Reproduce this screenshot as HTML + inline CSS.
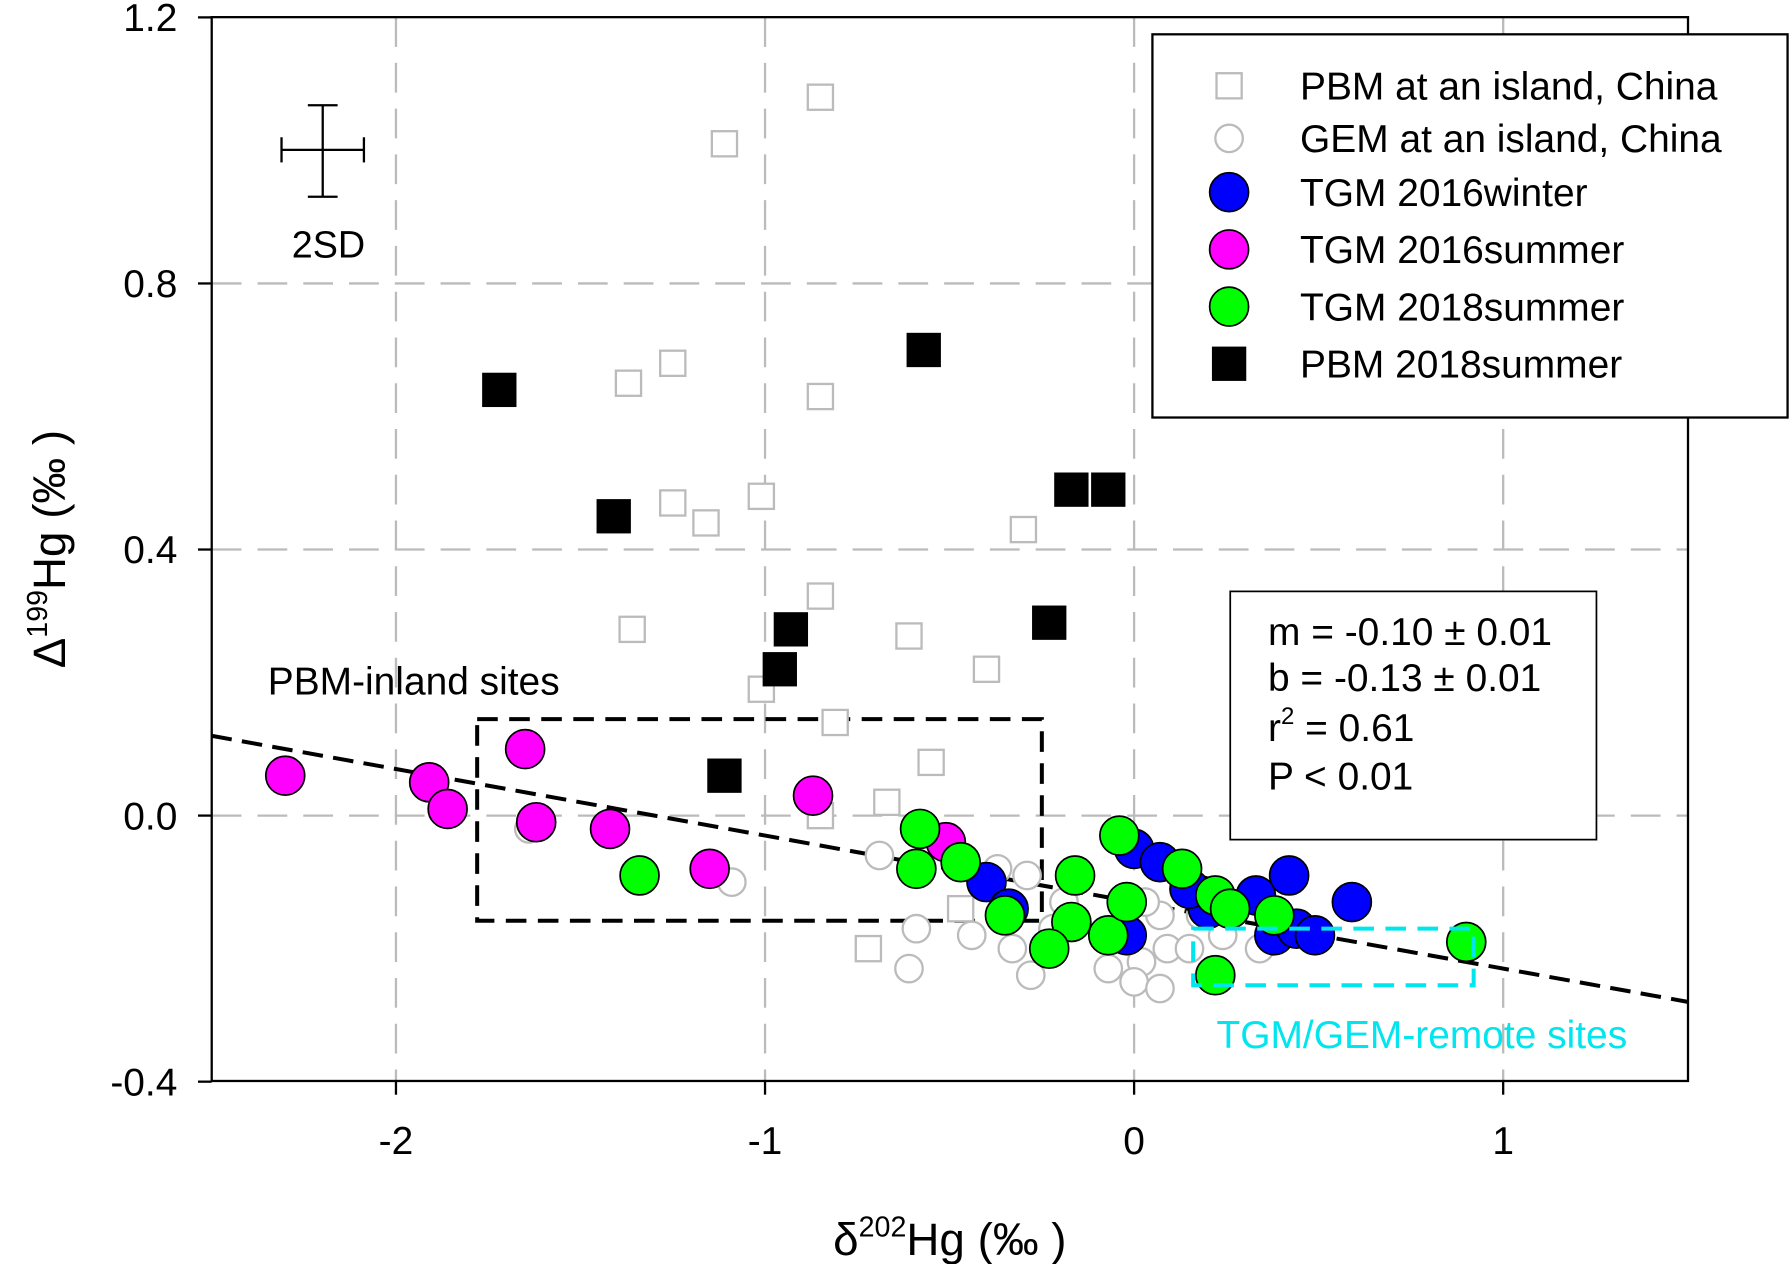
<!DOCTYPE html>
<html><head><meta charset="utf-8"><style>
html,body{margin:0;padding:0;background:#fff;}
svg{display:block;font-family:"Liberation Sans",Arial,sans-serif;}
</style></head><body>
<svg id="chart" width="1791" height="1264" viewBox="0 0 1565 1105" preserveAspectRatio="none">
<g id="grid"></g>
<g id="ann"></g>
<g id="marks"></g>
<rect x="185" y="15" width="1290" height="930" fill="none" stroke="#000" stroke-width="2"/>
<g id="axes"></g>
<text x="830" y="1097" font-size="40" text-anchor="middle">δ<tspan font-size="25" dy="-16">202</tspan><tspan dy="16">Hg (‰ )</tspan></text>
<text transform="translate(57,480) rotate(-90)" font-size="40" text-anchor="middle">Δ<tspan font-size="25" dy="-16">199</tspan><tspan dy="16">Hg (‰ )</tspan></text>
<g stroke="#000" stroke-width="2">
<line x1="246" y1="131" x2="318" y2="131"/><line x1="282" y1="92" x2="282" y2="172"/>
<line x1="246" y1="120" x2="246" y2="142"/><line x1="318" y1="120" x2="318" y2="142"/>
<line x1="269" y1="92" x2="295" y2="92"/><line x1="269" y1="172" x2="295" y2="172"/>
</g>
<text x="287" y="225" font-size="33" text-anchor="middle">2SD</text>
<g>
<rect x="1007" y="30" width="555" height="335" fill="#fff" stroke="#000" stroke-width="2"/>
<rect x="1063" y="64" width="22" height="22" fill="#fff" stroke="#bbb" stroke-width="2"/>
<text x="1136" y="87" font-size="34">PBM at an island, China</text>
<circle cx="1074" cy="121" r="12" fill="#fff" stroke="#bbb" stroke-width="2"/>
<text x="1136" y="133" font-size="34">GEM at an island, China</text>
<circle cx="1074" cy="168" r="17" fill="#0000ff" stroke="#000" stroke-width="1.5"/>
<text x="1136" y="180" font-size="34">TGM 2016winter</text>
<circle cx="1074" cy="218" r="17" fill="#ff00ff" stroke="#000" stroke-width="1.5"/>
<text x="1136" y="230" font-size="34">TGM 2016summer</text>
<circle cx="1074" cy="268" r="17" fill="#00ff00" stroke="#000" stroke-width="1.5"/>
<text x="1136" y="280" font-size="34">TGM 2018summer</text>
<rect x="1059" y="303" width="30" height="30" fill="#000"/>
<text x="1136" y="330" font-size="34">PBM 2018summer</text>
</g>
<g>
<rect x="1075" y="517" width="320" height="217" fill="#fff" stroke="#000" stroke-width="1.5"/>
<text x="1108" y="564" font-size="34">m = -0.10 ±  0.01</text>
<text x="1108" y="604" font-size="34">b = -0.13 ± 0.01</text>
<text x="1108" y="648" font-size="34">r<tspan font-size="21" dy="-15">2</tspan><tspan dy="15"> = 0.61</tspan></text>
<text x="1108" y="690" font-size="34">P &lt; 0.01</text>
</g>
<text x="234" y="607" font-size="34">PBM-inland sites</text>
<text x="1063" y="916" font-size="34" fill="#00e5ee">TGM/GEM-remote sites</text>
<script>
const xTicks=[-2,-1,0,1];
const yTicks=[1.2,0.8,0.4,0.0,-0.4];
const yTickLabels=["1.2","0.8","0.4","0.0","-0.4"];
const pbmIslandX=[-0.85,-1.11,-1.25,-1.37,-0.85,-1.25,-1.16,-1.01,-0.30,-0.85,-1.36,-0.61,-0.40,-1.01,-0.81,-0.55,-0.67,-0.85,-0.47,-0.72];
const pbmIslandY=[1.08,1.01,0.68,0.65,0.63,0.47,0.44,0.48,0.43,0.33,0.28,0.27,0.22,0.19,0.14,0.08,0.02,0.00,-0.14,-0.20];
const gemIslandX=[-0.69,-0.59,-0.61,-0.44,-0.37,-0.29,-0.33,-0.28,-1.09,-1.64,-0.07,0.02,0.00,0.07,0.09,0.15,0.07,0.03,0.24,0.34,0.18,-0.19,-0.22];
const gemIslandY=[-0.06,-0.17,-0.23,-0.18,-0.08,-0.09,-0.20,-0.24,-0.10,-0.02,-0.23,-0.22,-0.25,-0.26,-0.20,-0.20,-0.15,-0.13,-0.18,-0.20,-0.15,-0.13,-0.17];
const winter16X=[-0.40,-0.34,0.00,0.07,0.18,0.20,0.33,0.42,0.38,0.44,0.49,0.59,-0.02,0.15];
const winter16Y=[-0.10,-0.14,-0.05,-0.07,-0.12,-0.14,-0.12,-0.09,-0.18,-0.17,-0.18,-0.13,-0.18,-0.11];
const summer16X=[-2.30,-1.91,-1.86,-1.65,-1.62,-1.42,-1.15,-0.87,-0.51];
const summer16Y=[0.06,0.05,0.01,0.10,-0.01,-0.02,-0.08,0.03,-0.04];
const summer18X=[-1.34,-0.58,-0.59,-0.47,-0.35,-0.16,-0.17,-0.23,-0.07,-0.02,-0.04,0.13,0.22,0.26,0.38,0.22,0.90];
const summer18Y=[-0.09,-0.02,-0.08,-0.07,-0.15,-0.09,-0.16,-0.20,-0.18,-0.13,-0.03,-0.08,-0.12,-0.14,-0.15,-0.24,-0.19];
const pbm18X=[-1.72,-1.41,-0.57,-0.17,-0.07,-0.23,-0.93,-0.96,-1.11];
const pbm18Y=[0.64,0.45,0.70,0.49,0.49,0.29,0.28,0.22,0.06];
const slope=-0.10, intercept=-0.13;
const inlandBox=[-1.78,-0.25,0.145,-0.158];
const remoteBox=[0.16,0.92,-0.17,-0.255];

const NS="http://www.w3.org/2000/svg";
const sx=v=>991+322.5*v, sy=v=>713-581.5*v;
function mk(tag,parent,attrs){const e=document.createElementNS(NS,tag);for(const k in attrs)e.setAttribute(k,attrs[k]);parent.appendChild(e);return e;}
const grid=document.getElementById('grid'),axes=document.getElementById('axes'),marks=document.getElementById('marks'),ann=document.getElementById('ann');
xTicks.forEach(t=>{
  const l=mk('line',grid,{x1:sx(t),x2:sx(t),y1:15,y2:945,stroke:'#bbb','stroke-width':2,'stroke-dasharray':'26,14'});
  
  
  const tk=mk('line',axes,{x1:sx(t),x2:sx(t),y1:945,y2:957,stroke:'#000','stroke-width':2});
  
  
  const tx=mk('text',axes,{x:sx(t),y:1009,'font-size':34,'text-anchor':'middle'});tx.textContent=String(t);
  
  
});
yTicks.forEach((t,i)=>{
  if(t<1.2&&t>-0.4){const l=mk('line',grid,{x1:185,x2:1475,y1:sy(t),y2:sy(t),stroke:'#bbb','stroke-width':2,'stroke-dasharray':'26,14'});
  
  }
  const tk=mk('line',axes,{x1:173,x2:185,y1:sy(t),y2:sy(t),stroke:'#000','stroke-width':2});
  
  
  const tx=mk('text',axes,{x:155,y:sy(t)+12,'font-size':34,'text-anchor':'end'});tx.textContent=yTickLabels[i];
  
  
});
const reg=mk('line',ann,{x1:sx(-2.5),y1:sy(slope*-2.5+intercept),x2:sx(1.5),y2:sy(slope*1.5+intercept),stroke:'#000','stroke-width':3.5,'stroke-dasharray':'18,9'});


const b1=mk('rect',ann,{x:sx(inlandBox[0]),y:sy(inlandBox[2]),width:sx(inlandBox[1])-sx(inlandBox[0]),height:sy(inlandBox[3])-sy(inlandBox[2]),fill:'none',stroke:'#000','stroke-width':3.5,'stroke-dasharray':'18,10'});


function pts(X,Y,kind,name){
  X.forEach((x,i)=>{let e;
    if(kind==='gsq')e=mk('rect',marks,{x:sx(x)-11,y:sy(Y[i])-11,width:22,height:22,fill:'#fff',stroke:'#bbb','stroke-width':2});
    else if(kind==='gci')e=mk('circle',marks,{cx:sx(x),cy:sy(Y[i]),r:12,fill:'#fff',stroke:'#bbb','stroke-width':2});
    else if(kind==='bsq')e=mk('rect',marks,{x:sx(x)-15,y:sy(Y[i])-15,width:30,height:30,fill:'#000'});
    else e=mk('circle',marks,{cx:sx(x),cy:sy(Y[i]),r:17,fill:kind,stroke:'#000','stroke-width':1.5});
    
    
  });
}
pts(pbmIslandX,pbmIslandY,'gsq','pbm-island-point');
pts(gemIslandX,gemIslandY,'gci','gem-island-point');
pts(winter16X,winter16Y,'#0000ff','tgm-2016winter-point');
pts(summer16X,summer16Y,'#ff00ff','tgm-2016summer-point');
pts(summer18X,summer18Y,'#00ff00','tgm-2018summer-point');
pts(pbm18X,pbm18Y,'bsq','pbm-2018summer-point');
const b2=mk('rect',marks,{x:sx(remoteBox[0]),y:sy(remoteBox[2]),width:sx(remoteBox[1])-sx(remoteBox[0]),height:sy(remoteBox[3])-sy(remoteBox[2]),fill:'none',stroke:'#00e5ee','stroke-width':3.5,'stroke-dasharray':'18,10'});


</script>
</svg>
</body></html>
